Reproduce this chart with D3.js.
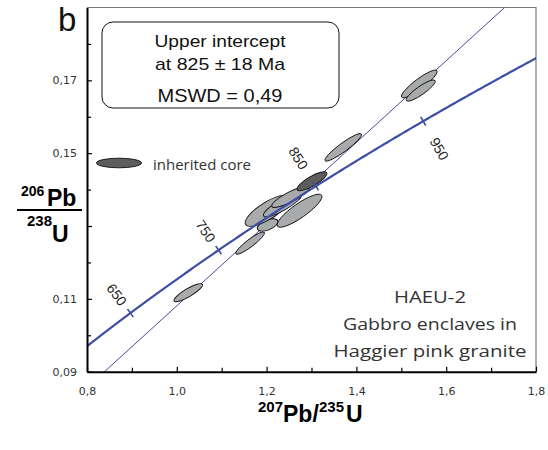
<!DOCTYPE html>
<html><head><meta charset="utf-8">
<script src="https://cdn.jsdelivr.net/npm/d3@7"></script>
<style>body{margin:0;background:#fff}svg{display:block}</style>
</head><body>
<svg id="chart" width="548" height="450"></svg>
<script>
// U–Pb decay constants (per Ma)
const LAMBDA_238 = 1.55125e-4;
const LAMBDA_235 = 9.8485e-4;

// axis extents and ticks
const xDomain = [0.8, 1.8];
const yDomain = [0.09, 0.19];
const xMajorTicks = [0.8, 1.0, 1.2, 1.4, 1.6, 1.8];
const xMinorTicks = [0.9, 1.1, 1.3, 1.5, 1.7];
const yMajorTicks = [0.09, 0.11, 0.13, 0.15, 0.17];
const yMinorTicks = [0.10, 0.12, 0.14, 0.16, 0.18];
const yLabelledTicks = [0.09, 0.11, 0.15, 0.17];

// concordia age marks (Ma) and discordia
const concordiaAges = [650, 750, 850, 950];
const upperInterceptAge = 825;
const discordiaSlope = 0.1122;

// zircon spot analyses: 207Pb/235U, 206Pb/238U, error half-extents, error correlation
const spotType = ["grain","grain","grain","grain","grain","grain","grain","grain","grain","grain","core"];
const spotX   = [1.0256, 1.1633, 1.2022, 1.2022, 1.2733, 1.2356, 1.2533, 1.3707, 1.5400, 1.5433, 1.3011];
const spotY   = [0.1117, 0.1253, 0.1303, 0.1342, 0.1342, 0.1358, 0.1380, 0.1516, 0.1690, 0.1672, 0.1423];
const spotSx  = [0.0319, 0.0319, 0.0230, 0.0500, 0.0500, 0.0428, 0.0419, 0.0407, 0.0396, 0.0323, 0.0332];
const spotSy  = [0.00249,0.00307,0.00170,0.00428,0.00454,0.00330,0.00289,0.00378,0.00380,0.00292,0.00260];
const spotRho = [0.862, 0.911, 0.52, 0.776, 0.861, 0.851, 0.85, 0.924, 0.895, 0.879, 0.816];

const boxLines = ["Upper intercept", "at 825 \u00B1 18 Ma", "MSWD = 0,49"];
const sampleLines = ["HAEU-2", "Gabbro enclaves in", "Haggier pink granite"];
const legendLabel = "inherited core";

const margin = {left: 87, right: 12, top: 7.5, bottom: 78.3};
const W = 548, H = 450;
const svg = d3.select("#chart");
const x = d3.scaleLinear().domain(xDomain).range([margin.left, W - margin.right]);
const y = d3.scaleLinear().domain(yDomain).range([H - margin.bottom, margin.top]);

const comma = d3.formatLocale({decimal: ",", thousands: ".", grouping: [3], currency: ["", ""]});
const SANS = "'Liberation Sans', Arial, Helvetica, sans-serif";

svg.append("defs").append("clipPath").attr("id", "plot")
  .append("rect").attr("x", x(xDomain[0])).attr("y", y(yDomain[1]))
  .attr("width", x(xDomain[1]) - x(xDomain[0])).attr("height", y(yDomain[0]) - y(yDomain[1]));

// thin frame on top and right
svg.append("path")
  .attr("d", `M${x(xDomain[0])},${y(yDomain[1])}H${x(xDomain[1])}V${y(yDomain[0])}`)
  .attr("fill", "none").attr("stroke", "#7a7a7a").attr("stroke-width", 1.2);

const concordia = t => ({x: Math.exp(LAMBDA_235 * t) - 1, y: Math.exp(LAMBDA_238 * t) - 1});
const plotG = svg.append("g").attr("clip-path", "url(#plot)");

// discordia through the upper intercept
const ui = concordia(upperInterceptAge);
const dLine = xv => ui.y + discordiaSlope * (xv - ui.x);
plotG.append("line")
  .attr("x1", x(0.7)).attr("y1", y(dLine(0.7)))
  .attr("x2", x(1.9)).attr("y2", y(dLine(1.9)))
  .attr("stroke", "#5b3f9e").attr("stroke-width", 1);

// error ellipses
function ellipseGeom(i) {
  const kx = x(1) - x(0), ky = y(1) - y(0);
  const sxp = spotSx[i] * kx, syp = spotSy[i] * ky;
  const a = sxp * sxp, d = syp * syp, b = spotRho[i] * sxp * syp;
  const m = (a + d) / 2, r = Math.sqrt(((a - d) / 2) ** 2 + b * b);
  return {cx: x(spotX[i]), cy: y(spotY[i]), rx: Math.sqrt(m + r), ry: Math.sqrt(Math.max(m - r, 0.01)),
          angle: 0.5 * Math.atan2(2 * b, a - d) * 180 / Math.PI};
}
const fills = {grain: "#a9aaac", core: "#5d5d5e"};
plotG.selectAll("ellipse.spot").data(d3.range(spotX.length)).join("ellipse")
  .attr("class", "spot")
  .each(function(i) {
    const g = ellipseGeom(i);
    d3.select(this).attr("cx", 0).attr("cy", 0).attr("rx", g.rx).attr("ry", g.ry)
      .attr("transform", `translate(${g.cx},${g.cy}) rotate(${g.angle})`);
  })
  .attr("fill", i => fills[spotType[i]]).attr("stroke", "#111").attr("stroke-width", 0.9);

// concordia curve
const tMin = Math.log(1 + xDomain[0]) / LAMBDA_235 - 5;
const tMax = Math.log(1 + xDomain[1]) / LAMBDA_235 + 5;
const curve = d3.range(tMin, tMax, 2).map(concordia);
plotG.append("path").datum(curve)
  .attr("d", d3.line().x(p => x(p.x)).y(p => y(p.y)))
  .attr("fill", "none").attr("stroke", "#3c4fa6").attr("stroke-width", 2.2);

// age ticks and labels on the concordia
const labelOffset = {650: 23, 750: 23, 850: 33, 950: -32};
concordiaAges.forEach(t => {
  const p = concordia(t);
  const px = x(p.x), py = y(p.y);
  const q = concordia(t + 1);
  let dx = x(q.x) - px, dy = y(q.y) - py;
  const len = Math.hypot(dx, dy); dx /= len; dy /= len;
  const nx = dy, ny = -dx; // normal towards upper left
  svg.append("line")
    .attr("x1", px - nx * 5).attr("y1", py - ny * 5)
    .attr("x2", px + nx * 5).attr("y2", py + ny * 5)
    .attr("stroke", "#3c4fa6").attr("stroke-width", 1.6);
  const off = labelOffset[t];
  const rot = Math.atan2(-ny, -nx) * 180 / Math.PI;
  svg.append("text")
    .attr("transform", `translate(${px + nx * off},${py + ny * off}) rotate(${rot})`)
    .attr("text-anchor", "middle").attr("dy", "0.35em")
    .attr("font-family", SANS).attr("font-size", 14).attr("fill", "#222")
    .text(t);
});

// axes
svg.append("g").attr("transform", `translate(0,${y(yDomain[0])})`)
  .call(d3.axisBottom(x).tickValues(xMajorTicks).tickSizeInner(-5).tickSizeOuter(0).tickPadding(16)
    .tickFormat(comma.format(".1f")));
svg.append("g").attr("transform", `translate(0,${y(yDomain[0])})`)
  .call(d3.axisBottom(x).tickValues(xMinorTicks).tickSizeInner(-4).tickSizeOuter(0).tickFormat(""))
  .call(g => g.select(".domain").remove());
svg.append("g").attr("transform", `translate(${x(xDomain[0])},0)`)
  .call(d3.axisLeft(y).tickValues(yMajorTicks).tickSizeInner(-5).tickSizeOuter(0).tickPadding(10)
    .tickFormat(d => yLabelledTicks.includes(d) ? comma.format(".2f")(d) : ""));
svg.append("g").attr("transform", `translate(${x(xDomain[0])},0)`)
  .call(d3.axisLeft(y).tickValues(yMinorTicks).tickSizeInner(-4).tickSizeOuter(0).tickFormat(""))
  .call(g => g.select(".domain").remove());
svg.selectAll(".domain").attr("stroke", "#000").attr("stroke-width", 2);
svg.selectAll(".tick line").attr("stroke", "#000").attr("stroke-width", 1.2);
svg.selectAll(".tick text").attr("font-family", "'DejaVu Sans', sans-serif").attr("font-size", 11).attr("fill", "#333");

// panel letter
svg.append("text").attr("x", 58).attr("y", 31).attr("font-family", SANS).attr("font-size", 33)
  .attr("fill", "#111").text("b");

// result box
svg.append("rect").attr("x", 102).attr("y", 22).attr("width", 237).attr("height", 86)
  .attr("rx", 11).attr("fill", "#fff").attr("stroke", "#111").attr("stroke-width", 1);
const boxY = [47, 70, 101.5], boxW = [131, 130, 125], boxS = [17, 17, 18.5];
boxLines.forEach((s, i) => svg.append("text").attr("x", 220).attr("y", boxY[i])
  .attr("text-anchor", "middle").attr("font-family", SANS).attr("font-size", boxS[i])
  .attr("textLength", boxW[i]).attr("lengthAdjust", "spacingAndGlyphs").attr("fill", "#111").text(s));

// legend
svg.append("ellipse").attr("cx", 119).attr("cy", 163).attr("rx", 22.5).attr("ry", 4.8)
  .attr("fill", fills.core).attr("stroke", "#111").attr("stroke-width", 0.9);
svg.append("text").attr("x", 153).attr("y", 170).attr("font-family", "'Open Sans', sans-serif")
  .attr("font-size", 14).attr("textLength", 98).attr("lengthAdjust", "spacingAndGlyphs")
  .attr("fill", "#333").text(legendLabel);

// sample description
const sY = [303, 330, 357], sW = [72, 174, 193];
sampleLines.forEach((s, i) => svg.append("text").attr("x", 430).attr("y", sY[i])
  .attr("text-anchor", "middle").attr("font-family", "'Open Sans', sans-serif").attr("font-size", 17)
  .attr("textLength", sW[i]).attr("lengthAdjust", "spacingAndGlyphs").attr("fill", "#333").text(s));

// axis titles
const bold = sel => sel.attr("font-family", SANS).attr("font-weight", "bold").attr("fill", "#000");
svg.append("text").attr("x", 258).attr("y", 411.5).attr("font-size", 15).call(bold).text("207");
svg.append("text").attr("x", 283).attr("y", 421.5).attr("font-size", 23).call(bold).text("Pb/");
svg.append("text").attr("x", 319).attr("y", 411.5).attr("font-size", 15).call(bold).text("235");
svg.append("text").attr("x", 346).attr("y", 421.5).attr("font-size", 23).call(bold).text("U");

svg.append("text").attr("x", 21).attr("y", 196).attr("font-size", 14).call(bold).text("206");
svg.append("text").attr("x", 47).attr("y", 206).attr("font-size", 23).call(bold).text("Pb");
svg.append("line").attr("x1", 17).attr("x2", 82).attr("y1", 210).attr("y2", 210)
  .attr("stroke", "#000").attr("stroke-width", 2);
svg.append("text").attr("x", 27).attr("y", 226).attr("font-size", 15).call(bold).text("238");
svg.append("text").attr("x", 52).attr("y", 241.5).attr("font-size", 23).call(bold).text("U");
</script>
</body></html>
